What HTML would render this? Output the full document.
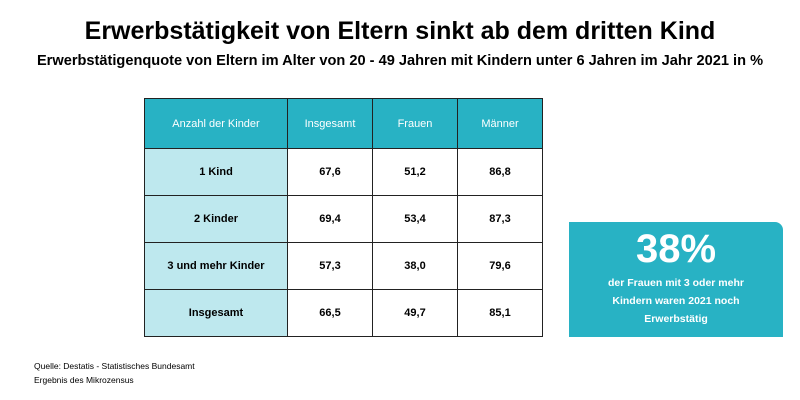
<!DOCTYPE html><html><head><style>
body{margin:0;width:800px;height:400px;background:#fff;font-family:"Liberation Sans",sans-serif;position:relative;overflow:hidden}
.t{position:absolute;left:0;width:800px;text-align:center;color:#000;font-weight:bold}
table{position:absolute;left:144px;top:98px;border-collapse:collapse;font-size:11px;font-weight:bold}
td{border:1.5px solid #222;text-align:center;padding:0}
tr.h td{background:#28b2c4;color:#fff;font-weight:normal;height:49px}
td.l{background:#bee8ee}
tr.r td{height:46px}
.box{position:absolute;left:569px;top:222px;width:214px;height:115px;background:#28b2c4;border-top-right-radius:8px;color:#fff;text-align:center;font-weight:bold}
.src{position:absolute;left:34px;font-size:8.5px;color:#000}
</style></head><body>
<div class="t" style="top:17px;font-size:25px">Erwerbstätigkeit von Eltern sinkt ab dem dritten Kind</div>
<div class="t" style="top:53px;font-size:14.6px">Erwerbstätigenquote von Eltern im Alter von 20 - 49 Jahren mit Kindern unter 6 Jahren im Jahr 2021 in %</div>
<table>
<tr class="h"><td style="width:142px">Anzahl der Kinder</td><td style="width:84px">Insgesamt</td><td style="width:84px">Frauen</td><td style="width:84px">Männer</td></tr>
<tr class="r"><td class="l">1 Kind</td><td>67,6</td><td>51,2</td><td>86,8</td></tr>
<tr class="r"><td class="l">2 Kinder</td><td>69,4</td><td>53,4</td><td>87,3</td></tr>
<tr class="r"><td class="l">3 und mehr Kinder</td><td>57,3</td><td>38,0</td><td>79,6</td></tr>
<tr class="r"><td class="l">Insgesamt</td><td>66,5</td><td>49,7</td><td>85,1</td></tr>
</table>
<div class="box"><div style="font-size:40px;margin-top:6px;line-height:42px">38%</div>
<div style="font-size:10.5px;line-height:18px;margin-top:4px">der Frauen mit 3 oder mehr<br>Kindern waren 2021 noch<br>Erwerbstätig</div></div>
<div class="src" style="top:361px">Quelle: Destatis - Statistisches Bundesamt</div>
<div class="src" style="top:375px">Ergebnis des Mikrozensus</div>
</body></html>
